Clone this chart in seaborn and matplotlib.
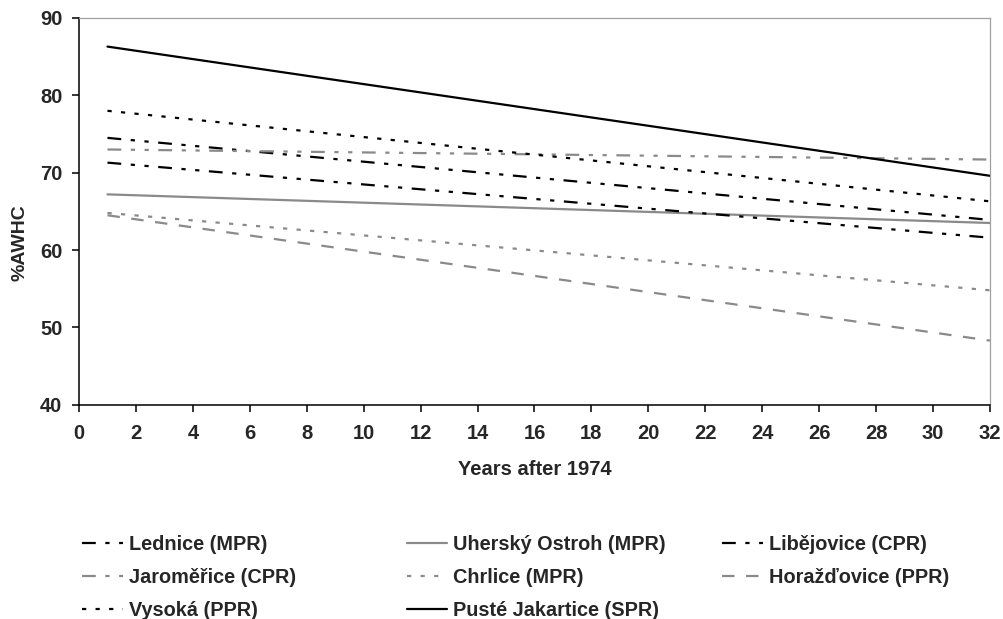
import matplotlib
matplotlib.use("Agg")
import matplotlib.pyplot as plt
import seaborn as sns
import pandas as pd

# trend lines (start / end value of each site)
years = [1, 32]
sites = ["Lednice (MPR)", "Uherský Ostroh (MPR)", "Libějovice (CPR)",
         "Jaroměřice (CPR)", "Chrlice (MPR)", "Horažďovice (PPR)",
         "Vysoká (PPR)", "Pusté Jakartice (SPR)"]
lednice = [74.5, 63.9]
uhersky = [67.2, 63.5]
libejovice = [71.3, 61.6]
jaromerice = [73.0, 71.7]
chrlice = [64.8, 54.8]
horazdovice = [64.5, 48.3]
vysoka = [78.0, 66.3]
puste = [86.3, 69.6]

series = [lednice, uhersky, libejovice, jaromerice, chrlice, horazdovice, vysoka, puste]
rows = []
for name, vals in zip(sites, series):
    for x, v in zip(years, vals):
        rows.append({"x": x, "awhc": v, "site": name})
df = pd.DataFrame(rows)

BLACK = "black"
GREY = "#8a8a8a"
palette = {
    "Lednice (MPR)": BLACK, "Uherský Ostroh (MPR)": GREY, "Libějovice (CPR)": BLACK,
    "Jaroměřice (CPR)": GREY, "Chrlice (MPR)": GREY, "Horažďovice (PPR)": GREY,
    "Vysoká (PPR)": BLACK, "Pusté Jakartice (SPR)": BLACK,
}
dashdotdot = (6.2, 4.3, 1.9, 4.3, 1.9, 4.3)
dotted = (1.9, 4.2)
dashed = (5.6, 5.2)
dashes = {
    "Lednice (MPR)": dashdotdot, "Uherský Ostroh (MPR)": "", "Libějovice (CPR)": dashdotdot,
    "Jaroměřice (CPR)": dashdotdot, "Chrlice (MPR)": dotted, "Horažďovice (PPR)": dashed,
    "Vysoká (PPR)": dotted, "Pusté Jakartice (SPR)": "",
}

sns.set_style("ticks")
plt.rcParams["font.family"] = ["Liberation Sans", "DejaVu Sans"]
plt.rcParams["font.weight"] = "bold"

fig = plt.figure(figsize=(10.04, 6.19), dpi=100)
ax = fig.add_axes([0.0787, 0.346, 0.9073, 0.625])
sns.lineplot(data=df, x="x", y="awhc", hue="site", style="site", hue_order=sites,
             style_order=sites, palette=palette, dashes=dashes, linewidth=1.6,
             legend=False, ax=ax)

ax.set_xlim(0, 32)
ax.set_ylim(40, 90)
ax.set_xticks(range(0, 33, 2))
ax.set_yticks(range(40, 91, 10))
ax.tick_params(axis="both", direction="out", length=5, width=1.1, color="black",
               labelsize=14.5)
ax.tick_params(axis="x", pad=9)
ax.tick_params(axis="y", pad=7)
for lab in ax.get_xticklabels() + ax.get_yticklabels():
    lab.set_fontweight("bold")
ax.set_xlabel("Years after 1974", fontsize=14.5, fontweight="bold", labelpad=12)
ax.set_ylabel("%AWHC", fontsize=14, fontweight="bold", labelpad=8)
ax.yaxis.set_label_coords(-0.056, 0.42)
for s in ["left", "bottom"]:
    ax.spines[s].set_color("black")
    ax.spines[s].set_linewidth(1.1)
for s in ["top", "right"]:
    ax.spines[s].set_color("#a0a0a0")
    ax.spines[s].set_linewidth(0.9)

handles = ax.get_lines()[:len(sites)]
cols = [[0, 3, 6], [1, 4, 7], [2, 5]]
xpos = [0.0817, 0.405, 0.719]
for idx, x0 in zip(cols, xpos):
    fig.legend([handles[i] for i in idx], [sites[i] for i in idx],
               loc="upper left", bbox_to_anchor=(x0, 0.136), frameon=False,
               borderpad=0, borderaxespad=0, handlelength=2.05, handletextpad=0.3,
               labelspacing=0.72, prop={"size": 14.3, "weight": "bold"})

fig.savefig("out.png", dpi=100)
